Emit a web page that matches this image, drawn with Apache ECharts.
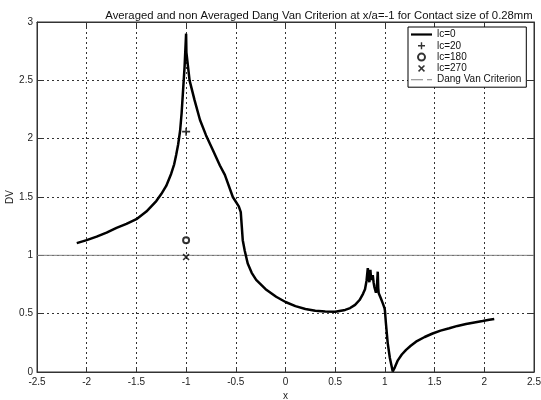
<!DOCTYPE html>
<html>
<head>
<meta charset="utf-8">
<script src="https://cdn.jsdelivr.net/npm/echarts@6/dist/echarts.min.js"></script>
<style>
  html, body { margin: 0; padding: 0; background: #fff; }
  #chart { width: 541px; height: 400px; }
</style>
</head>
<body>
<div id="chart"></div>
<script>
// lc=0 curve
const lc0X = [-2.1, -2.0, -1.9, -1.8, -1.7, -1.6, -1.5, -1.4, -1.3, -1.25, -1.2, -1.15, -1.12, -1.1, -1.08, -1.06,
    -1.045, -1.03, -1.015, -1.0,
    -0.997, -0.965, -0.915, -0.86, -0.8, -0.73, -0.66, -0.61, -0.53, -0.47, -0.45, -0.44, -0.43, -0.41, -0.38,
    -0.34, -0.295, -0.2, -0.094, 0.0, 0.1, 0.2, 0.3, 0.4, 0.5, 0.6, 0.65, 0.7, 0.745, 0.78, 0.8, 0.815, 0.828,
    0.838, 0.844, 0.854, 0.862, 0.868, 0.878, 0.886, 0.894, 0.91, 0.918, 0.928, 0.933, 0.938, 0.96, 0.978, 0.995,
    1.0, 1.01, 1.028, 1.05, 1.079, 1.1, 1.13, 1.17, 1.213, 1.26, 1.313, 1.4, 1.48, 1.56, 1.648, 1.73, 1.816, 1.9,
    1.983, 2.05, 2.1];
const lc0Y = [1.105, 1.13, 1.16, 1.195, 1.235, 1.27, 1.31, 1.375, 1.465, 1.525, 1.595, 1.7, 1.78, 1.86, 1.95, 2.07,
    2.22, 2.42, 2.62, 2.9,
    2.74, 2.5, 2.33, 2.16, 2.03, 1.9, 1.77, 1.69, 1.5, 1.42, 1.37, 1.25, 1.13, 1.04, 0.93,
    0.85, 0.79, 0.71, 0.645, 0.6, 0.565, 0.54, 0.525, 0.518, 0.517, 0.532, 0.548, 0.575, 0.617, 0.67, 0.71, 0.78, 0.89,
    0.8, 0.77, 0.875, 0.79, 0.775, 0.83, 0.77, 0.73, 0.68, 0.7, 0.86, 0.72, 0.675, 0.63, 0.59, 0.55,
    0.53, 0.42, 0.25, 0.12, 0.005, 0.04, 0.1, 0.15, 0.19, 0.225, 0.26, 0.3, 0.33, 0.355, 0.375, 0.395, 0.411, 0.425,
    0.437, 0.447, 0.454];

// single points at x/a = -1
const lc20 = [[-1.0, 2.06]];
const lc180 = [[-1.0, 1.13]];
const lc270 = [[-1.0, 0.985]];

// Dang Van criterion limit
const dangVanX = [-2.5, 2.5];
const dangVanY = [1, 1];

const xTicks = [-2.5, -2, -1.5, -1, -0.5, 0, 0.5, 1, 1.5, 2, 2.5];
const yTicks = [0, 0.5, 1, 1.5, 2, 2.5, 3];

const chart = echarts.init(document.getElementById('chart'));

const fontFam = '"Liberation Sans", Arial, sans-serif';
const plusPath = 'path://M4,0 L6,0 L6,4 L10,4 L10,6 L6,6 L6,10 L4,10 L4,6 L0,6 L0,4 L4,4 Z';
const crossPath = 'path://M0,1.5 L1.5,0 L5,3.5 L8.5,0 L10,1.5 L6.5,5 L10,8.5 L8.5,10 L5,6.5 L1.5,10 L0,8.5 L3.5,5 Z';
const solidIcon = 'path://M0,0 H21 V2.2 H0 Z';
const dashIcon = 'path://M0,0 H12 V1 H0 Z M16,0 H21 V1 H16 Z';

const gridLine = { show: true, lineStyle: { color: '#333', type: [2, 3], width: 1 } };
const tickLabel = { color: '#222', fontSize: 10, fontFamily: fontFam };
const frame = { show: true, onZero: false, lineStyle: { color: '#333' } };
const inTick = { show: true, inside: true, length: 5, lineStyle: { color: '#333' } };

const option = {
    animation: false,
    backgroundColor: '#fff',
    title: {
        text: 'Averaged and non Averaged Dang Van Criterion at x/a=-1 for Contact size of 0.28mm',
        left: 314,
        textAlign: 'center',
        top: 5,
        textStyle: { fontSize: 11.3, fontWeight: 'normal', color: '#111', fontFamily: fontFam },
    },
    legend: {
        orient: 'vertical',
        left: 408,
        top: 27,
        padding: [2, 5, 2, 3],
        itemGap: 0.3,
        itemWidth: 21,
        itemHeight: 7,
        backgroundColor: '#fff',
        borderColor: '#000',
        borderWidth: 1,
        borderRadius: 0,
        textStyle: { fontSize: 10, lineHeight: 11, color: '#111', fontFamily: fontFam },
        data: [
            { name: 'lc=0', icon: solidIcon },
            { name: 'lc=20' },
            { name: 'lc=180' },
            { name: 'lc=270' },
            { name: 'Dang Van Criterion', icon: dashIcon },
        ],
    },
    grid: {
        left: 37,
        right: 7,
        top: 22,
        bottom: 28,
        outerBoundsMode: 'none',
        show: true,
        borderColor: '#333',
        borderWidth: 1,
    },
    xAxis: [
        {
            type: 'value',
            min: -2.5,
            max: 2.5,
            interval: 0.5,
            name: 'x',
            nameLocation: 'middle',
            nameGap: 19,
            nameMoveOverlap: false,
            nameTextStyle: { fontSize: 10, color: '#222', fontFamily: fontFam },
            axisLine: frame,
            axisTick: inTick,
            axisLabel: { ...tickLabel, margin: 5, formatter: (v) => xTicks.includes(v) ? String(v) : '' },
            splitLine: gridLine,
        },
        {
            type: 'value',
            position: 'top',
            min: -2.5,
            max: 2.5,
            interval: 0.5,
            axisLine: frame,
            axisTick: inTick,
            axisLabel: { show: false },
            splitLine: { show: false },
        },
    ],
    yAxis: [
        {
            type: 'value',
            min: 0,
            max: 3,
            interval: 0.5,
            name: 'DV',
            nameLocation: 'middle',
            nameGap: 22,
            nameMoveOverlap: false,
            nameTextStyle: { fontSize: 10, color: '#222', fontFamily: fontFam },
            axisLine: frame,
            axisTick: inTick,
            axisLabel: { ...tickLabel, margin: 4, formatter: (v) => yTicks.includes(v) ? String(v) : '' },
            splitLine: gridLine,
        },
        {
            type: 'value',
            position: 'right',
            min: 0,
            max: 3,
            interval: 0.5,
            axisLine: frame,
            axisTick: inTick,
            axisLabel: { show: false },
            splitLine: { show: false },
        },
    ],
    series: [
        {
            name: 'Dang Van Criterion',
            type: 'line',
            data: dangVanX.map((x, i) => [x, dangVanY[i]]),
            symbol: 'none',
            lineStyle: { color: '#808080', width: 1 },
            itemStyle: { color: '#808080' },
            z: 1,
        },
        {
            name: 'lc=0',
            type: 'line',
            data: lc0X.map((x, i) => [x, lc0Y[i]]),
            symbol: 'none',
            lineStyle: { color: '#000', width: 2.5 },
            itemStyle: { color: '#000' },
            z: 3,
        },
        {
            name: 'lc=20',
            type: 'scatter',
            data: lc20,
            symbol: plusPath,
            symbolSize: 8,
            itemStyle: { color: '#000' },
            z: 4,
        },
        {
            name: 'lc=180',
            type: 'scatter',
            data: lc180,
            symbol: 'circle',
            symbolSize: 6,
            itemStyle: { color: '#fff', borderColor: '#000', borderWidth: 2 },
            z: 4,
        },
        {
            name: 'lc=270',
            type: 'scatter',
            data: lc270,
            symbol: crossPath,
            symbolSize: 7,
            itemStyle: { color: '#000' },
            z: 4,
        },
    ],
};

chart.setOption(option);
</script>
</body>
</html>
